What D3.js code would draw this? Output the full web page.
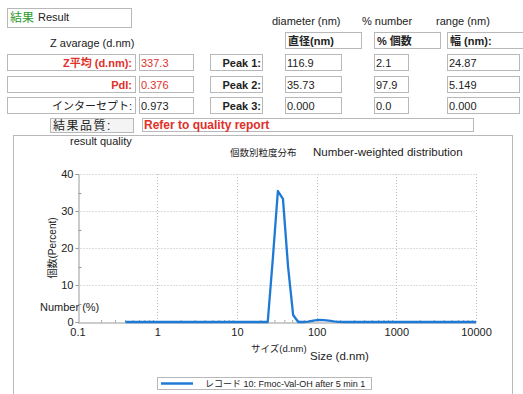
<!DOCTYPE html>
<html><head><meta charset="utf-8">
<script src="https://cdn.jsdelivr.net/npm/d3@7"></script>
<style>
body{margin:0;background:#fff;}
svg{display:block;font-family:"Liberation Sans",Arial,"Noto Sans CJK JP",sans-serif;}
</style></head>
<body>
<svg id="c" width="523" height="394"></svg>
<script>
// Size classes (d.nm) and number-weighted distribution (%)
const sizes   = [0.4, 24.36, 28.21, 32.67, 37.84, 43.82, 50.75, 58.77, 68.06, 78.82, 91.28, 105.7, 122.4, 141.8, 164.2, 190.1, 220.2, 10000];
const numbers = [0,   0,     17.0,  35.4,  33.3,  15.0,  1.9,   0,     0,     0.1,   0.4,   0.55,  0.5,   0.35,  0.15,  0.05,  0,     0];

const xTicks = [0.1, 1, 10, 100, 1000, 10000];
const xTickLabels = ["0.1", "1", "10", "100", "1000", "10000"];
const yTicks = [0, 10, 20, 30, 40];

// Summary table values
const peakNames = ["Peak 1:", "Peak 2:", "Peak 3:"];
const peakDiam  = ["116.9", "35.73", "0.000"];
const peakPct   = ["2.1", "97.9", "0.0"];
const peakWidth = ["24.87", "5.149", "0.000"];
const zRowLabels = ["Z平均 (d.nm):", "PdI:", "インターセプト:"];
const zRowValues = ["337.3", "0.376", "0.973"];
const zRowColors = ["#e0302a", "#e0302a", "#222"];

const svg = d3.select("#c");
const red = "#e0302a";
const boxStroke = "#b8b8b8";

function box(x, y, w, h, fill) {
  svg.append("rect").attr("x", x + 0.5).attr("y", y + 0.5).attr("width", w).attr("height", h)
    .attr("fill", fill || "#fff").attr("stroke", boxStroke).attr("stroke-width", 1);
}
function text(x, y, s, opts) {
  opts = opts || {};
  return svg.append("text").attr("x", x).attr("y", y).text(s)
    .attr("font-size", opts.size || 11)
    .attr("fill", opts.color || "#222")
    .attr("font-weight", opts.bold ? "bold" : null)
    .attr("text-anchor", opts.anchor || "start");
}

// Header
box(7, 8, 124, 19);
text(10, 22, "結果", {color: "#2e9a2e", size: 12});
text(38, 21, "Result", {size: 11});
text(50, 47, "Z avarage (d.nm)", {size: 11});
text(272, 25, "diameter (nm)", {size: 11});
text(362, 25, "% number", {size: 11});
text(436, 25, "range (nm)", {size: 11});

// Column header boxes
box(285, 32, 76, 16); text(288, 45, "直径(nm)", {bold: true});
box(374, 32, 66, 16); text(377, 45, "% 個数", {bold: true});
box(447, 32, 76, 16); text(450, 45, "幅 (nm):", {bold: true});

const rowY = [54, 76, 97];
rowY.forEach((y, i) => {
  box(7, y, 128, 16);
  text(132, y + 12.5, zRowLabels[i], {color: zRowColors[i], bold: i < 2, anchor: "end"});
  box(139, y, 54, 16);
  text(141, y + 12.5, zRowValues[i], {color: zRowColors[i]});
  box(210, y, 52, 16);
  text(261, y + 12.5, peakNames[i], {bold: true, anchor: "end"});
  box(285, y, 56, 16);
  text(287, y + 12.5, peakDiam[i]);
  box(374, y, 34, 16);
  text(376, y + 12.5, peakPct[i]);
  box(447, y, 72, 16);
  text(449, y + 12.5, peakWidth[i]);
});

box(50, 118, 83, 14, "#f4f4f4");
text(53, 130, "結果品質:", {size: 12}).attr("letter-spacing", 1.5);
box(142, 118, 331, 13);
text(144, 129, "Refer to quality report", {color: red, bold: true, size: 12});

// Chart frame
box(13, 135, 499, 270);
text(70, 145, "result quality", {size: 11});
text(230, 156, "個数別粒度分布", {size: 9.5});
text(313, 156, "Number-weighted distribution", {size: 11.5});

// Scales
const x = d3.scaleLog().domain([0.1, 10000]).range([77.5, 476]);
const y = d3.scaleLinear().domain([0, 40]).range([322, 174]);

const plot = svg.append("g");

// Dotted grid
plot.selectAll(".gx").data(xTicks.slice(1)).enter().append("line")
  .attr("x1", d => Math.round(x(d)) + 0.5).attr("x2", d => Math.round(x(d)) + 0.5)
  .attr("y1", y(40)).attr("y2", y(0))
  .attr("stroke", "#bdbdbd").attr("stroke-dasharray", "1,2");
plot.selectAll(".gy").data(yTicks.slice(1)).enter().append("line")
  .attr("x1", x(0.1)).attr("x2", x(10000))
  .attr("y1", d => Math.round(y(d)) + 0.5).attr("y2", d => Math.round(y(d)) + 0.5)
  .attr("stroke", "#bdbdbd").attr("stroke-dasharray", "1,2");

// Axes
const yAxis = d3.axisLeft(y).tickValues(yTicks).tickSize(3).tickPadding(2).tickFormat(d3.format("d"));
const gy = plot.append("g").attr("transform", `translate(${Math.round(x(0.1)) + 0.5},0)`).call(yAxis);
gy.select(".domain").attr("stroke", "#999");
gy.selectAll(".tick line").attr("stroke", "#999");
gy.selectAll(".tick text").attr("font-size", 11).attr("fill", "#222").attr("font-family", "Liberation Sans, Arial, sans-serif");
// minor y ticks
plot.selectAll(".my").data([5, 15, 25, 35]).enter().append("line")
  .attr("x1", Math.round(x(0.1)) + 0.5).attr("x2", Math.round(x(0.1)) + 3.5)
  .attr("y1", d => Math.round(y(d)) + 0.5).attr("y2", d => Math.round(y(d)) + 0.5)
  .attr("stroke", "#999");

const xAxis = d3.axisBottom(x).tickValues(xTicks).tickSize(0).tickPadding(6)
  .tickFormat((d, i) => xTickLabels[i]);
const gx = plot.append("g").attr("transform", `translate(0,${Math.round(y(0)) + 0.5})`).call(xAxis);
gx.select(".domain").attr("stroke", "#999");
gx.selectAll(".tick text").attr("font-size", 11).attr("fill", "#222").attr("font-family", "Liberation Sans, Arial, sans-serif");
// minor x ticks pointing up
const minor = [];
[0.1, 1, 10, 100, 1000].forEach(b => { for (let k = 2; k < 10; k++) minor.push(b * k); });
plot.selectAll(".mx").data(minor).enter().append("line")
  .attr("x1", d => x(d)).attr("x2", d => x(d))
  .attr("y1", Math.round(y(0)) + 0.5).attr("y2", Math.round(y(0)) - 2)
  .attr("stroke", "#aaa");

// Distribution curve
const line = d3.line().x((d, i) => x(sizes[i])).y(d => y(d));
plot.append("path").datum(numbers).attr("d", line)
  .attr("fill", "none").attr("stroke", "#1f7ad6").attr("stroke-width", 2.3)
  .attr("stroke-linejoin", "round");

// Axis titles
svg.append("text").attr("transform", "translate(56,248) rotate(-90)")
  .attr("text-anchor", "middle").attr("font-size", 10).attr("fill", "#222").text("個数(Percent)");
text(40, 311, "Number (%)", {size: 11});
text(251, 352, "サイズ(d.nm)", {size: 9.5});
text(310, 360, "Size (d.nm)", {size: 11.5});

// Legend
box(157, 377, 214, 12);
svg.append("line").attr("x1", 161).attr("x2", 193).attr("y1", 383.5).attr("y2", 383.5)
  .attr("stroke", "#1f7ad6").attr("stroke-width", 2.5);
text(205, 387, "レコード 10: Fmoc-Val-OH after 5 min 1", {size: 9});
</script>
</body></html>
